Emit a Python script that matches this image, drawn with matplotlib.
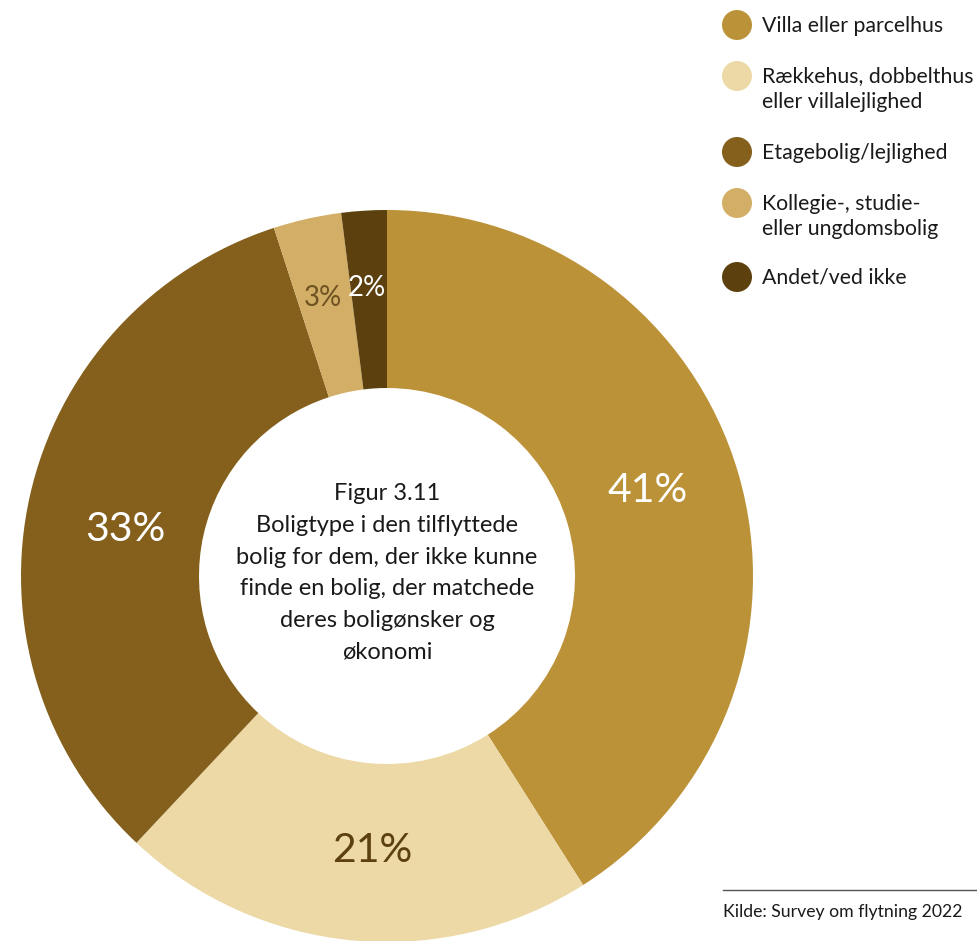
import numpy as np
import matplotlib.pyplot as plt
from matplotlib.patches import Circle

plt.rcParams['font.family'] = ['Lato', 'DejaVu Sans']

categories = ["Villa eller parcelhus",
              "Rækkehus, dobbelthus\neller villalejlighed",
              "Etagebolig/lejlighed",
              "Kollegie-, studie-\neller ungdomsbolig",
              "Andet/ved ikke"]
shares = [41, 21, 33, 3, 2]
colors = ['#BC9238', '#EDD9A6', '#85601C', '#D2AE66', '#5C410E']
label_colors = ['white', '#5C410E', 'white', '#6E5220', 'white']
title = ("Figur 3.11\nBoligtype i den tilflyttede\nbolig for dem, der ikke kunne\n"
         "finde en bolig, der matchede\nderes boligønsker og\nøkonomi")
source = "Kilde: Survey om flytning 2022"

W, H = 978, 941
fig = plt.figure(figsize=(W / 100, H / 100), dpi=100)
ax = fig.add_axes([0, 0, 1, 1])

cx, cy = 387, H - 576
r_out, r_in = 366, 188
wedges, _ = ax.pie(shares, colors=colors, startangle=90, counterclock=False,
                   center=(cx, cy), radius=r_out, frame=True,
                   wedgeprops=dict(width=r_out - r_in, linewidth=0))
ax.set_xlim(0, W)
ax.set_ylim(0, H)
ax.set_aspect('equal')
ax.axis('off')

# percent labels: radius fraction and small angle nudge (degrees)
label_r = [0.75, 0.75, 0.727, 0.78, 0.79]
label_nudge = [2.0, 2.3, 2.6, 0.3, 0.4]
label_size = [29.5, 29.5, 29.5, 20, 20]
start = 90
for i, s in enumerate(shares):
    mid = start - 360 * s / 100 / 2 + label_nudge[i]
    start -= 360 * s / 100
    x = cx + label_r[i] * r_out * np.cos(np.deg2rad(mid))
    y = cy + label_r[i] * r_out * np.sin(np.deg2rad(mid))
    ax.text(x, y, f"{s}%", color=label_colors[i], fontsize=label_size[i],
            ha='center', va='center')

ax.text(cx, cy + 3, title, ha='center', va='center', fontsize=17,
        color='#1a1a1a', linespacing=1.63)

# legend
leg_y = [25, 76, 152, 203, 277]
for lab, col, ly in zip(categories, colors, leg_y):
    ax.add_patch(Circle((737, H - ly), 15, color=col, lw=0))
    ax.text(762, H - ly + 9.5, lab, ha='left', va='top', fontsize=15.3,
            color='#1a1a1a', linespacing=1.35)

ax.plot([723, 978], [H - 890, H - 890], color='#555555', lw=1)
ax.text(723, H - 912, source, ha='left', va='center', fontsize=12.7, color='#1a1a1a')

fig.savefig('out.png', dpi=100)
